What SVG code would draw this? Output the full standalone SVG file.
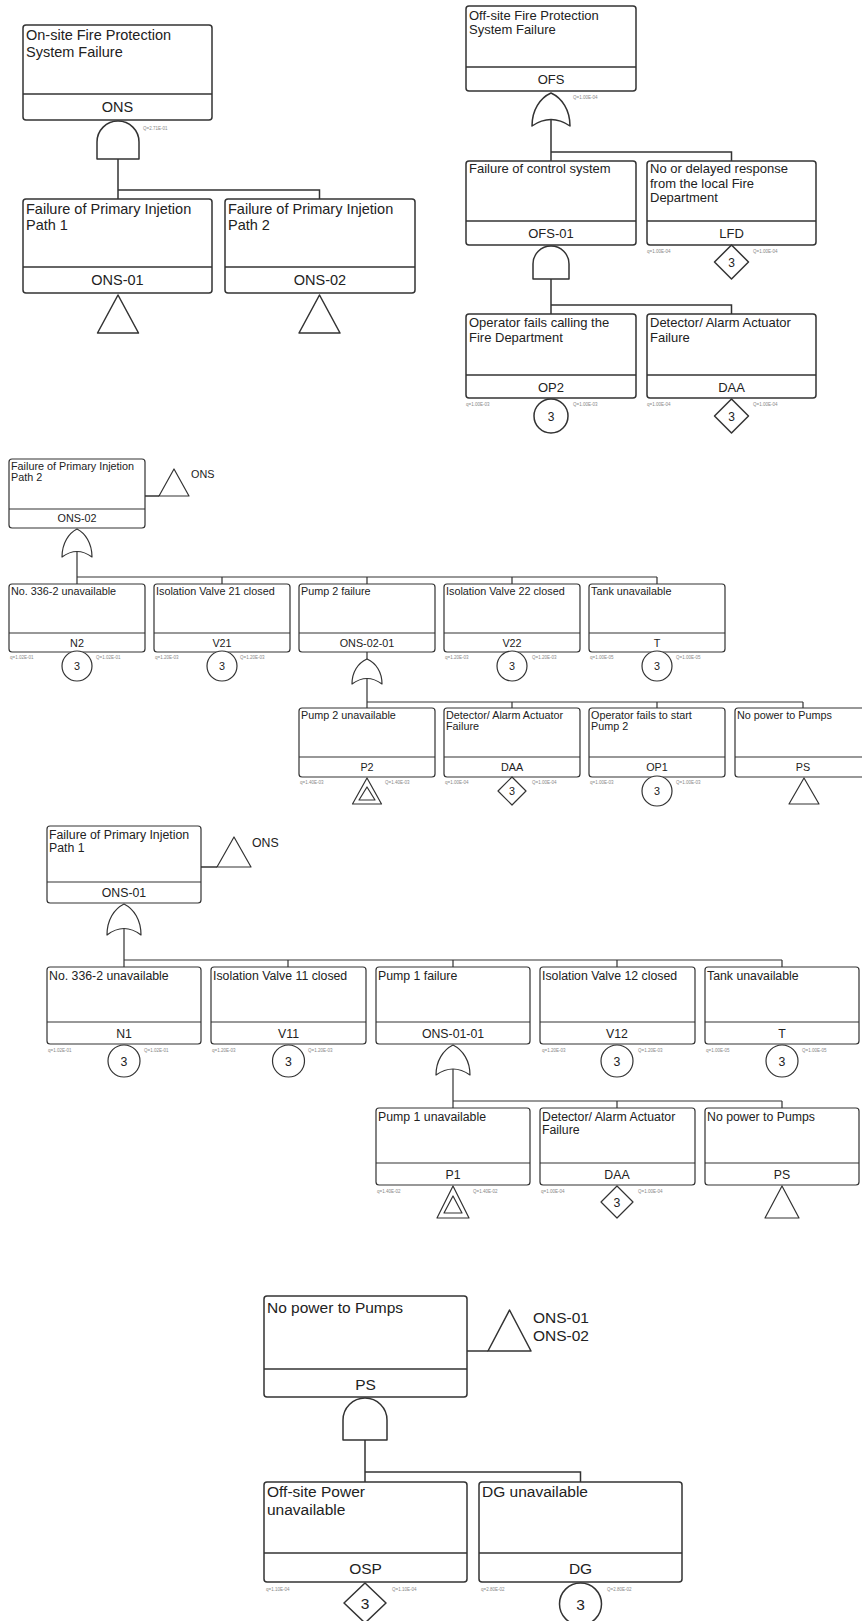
<svg xmlns="http://www.w3.org/2000/svg" width="862" height="1621" viewBox="0 0 862 1621">
<style>
.bg{fill:#fff}
.box{fill:#fff;stroke:#333;stroke-width:1.5}
.dv{stroke:#333;stroke-width:1.5}
.g{fill:#fff;stroke:#333;stroke-width:1.5;stroke-linejoin:round}
.c{fill:none;stroke:#333;stroke-width:1.5}
.t{font-family:"Liberation Sans",Arial,sans-serif;fill:#222}
.m{text-anchor:middle}
.sm{font-family:"Liberation Sans",Arial,sans-serif;font-size:4.5px;fill:#888}
.s1{font-size:14.5px}
.s1r{font-size:13px}
.s2{font-size:10.8px}
.s3{font-size:12.3px}
.s4{font-size:15.5px}
.thin .box,.thin .dv,.thin .g{stroke-width:1.2}
</style>
<rect class="bg" x="0" y="0" width="862" height="1621"/>

<!-- ===== Connectors ===== -->
<g id="connectors">
  <path class="c" d="M118,159 V199 M118,190 H319.5 V199"/>
  <path class="c" d="M551,120 V161 M551,152 H731.5 V161"/>
  <path class="c" d="M551,279 V314 M551,305 H731.5 V314"/>
  <path class="c" d="M145,496 H159"/>
  <path class="c" style="stroke-width:1.2" d="M77,551 V584 M77,577 H657 M222,577 V584 M367,577 V584 M512,577 V584 M657,577 V584"/>
  <path class="c" style="stroke-width:1.2" d="M367,652 V659 M367,678 V708 M367,702 H803 M512,702 V708 M657,702 V708 M803,702 V708"/>
  <path class="c" d="M201,867 H217"/>
  <path class="c" style="stroke-width:1.2" d="M124,928 V967 M124,960 H782 M288,960 V967 M453,960 V967 M617,960 V967 M782,960 V967"/>
  <path class="c" style="stroke-width:1.2" d="M453,1069 V1108 M453,1101 H782 M617,1101 V1108 M782,1101 V1108"/>
  <path class="c" d="M467,1351 H488"/>
  <path class="c" d="M365,1440 V1482 M365,1472 H580.5 V1482"/>
</g>

<!-- ===== Section 1 left ===== -->
<g id="ONS">
  <rect class="box" x="23" y="25" width="189" height="95" rx="3"/>
  <line class="dv" x1="23" y1="94" x2="212" y2="94"/>
  <text class="t s1" x="26" y="40">On-site Fire Protection</text>
  <text class="t s1" x="26" y="57">System Failure</text>
  <text class="t s1 m" x="117.5" y="112">ONS</text>
</g>
<g id="ONS-gate">
  <path class="g" d="M97,159 V142 A21,21 0 0 1 139,142 V159 Z"/>
  <text class="sm" x="143" y="130">Q=2.71E-01</text>
</g>
<g id="ONS-01-top">
  <rect class="box" x="23" y="199" width="189" height="94" rx="3"/>
  <line class="dv" x1="23" y1="267" x2="212" y2="267"/>
  <text class="t s1" x="26" y="213.5">Failure of Primary Injetion</text>
  <text class="t s1" x="26" y="230">Path 1</text>
  <text class="t s1 m" x="117.5" y="285">ONS-01</text>
  <path class="g" d="M118,295 L138.5,333 L97.5,333 Z"/>
</g>
<g id="ONS-02-top">
  <rect class="box" x="225" y="199" width="190" height="94" rx="3"/>
  <line class="dv" x1="225" y1="267" x2="415" y2="267"/>
  <text class="t s1" x="228" y="213.5">Failure of Primary Injetion</text>
  <text class="t s1" x="228" y="230">Path 2</text>
  <text class="t s1 m" x="320" y="285">ONS-02</text>
  <path class="g" d="M319.5,295 L340,333 L299,333 Z"/>
</g>

<!-- ===== Section 1 right ===== -->
<g id="OFS">
  <rect class="box" x="466" y="6" width="170" height="85" rx="3"/>
  <line class="dv" x1="466" y1="67" x2="636" y2="67"/>
  <text class="t s1r" x="469" y="19.5">Off-site Fire Protection</text>
  <text class="t s1r" x="469" y="34">System Failure</text>
  <text class="t s1r m" x="551" y="84">OFS</text>
</g>
<g id="OFS-gate">
  <path class="g" d="M532,126 C532,110 540,98 551,93 C562,98 570,110 570,126 Q551,113 532,126 Z"/>
  <text class="sm" x="573" y="99">Q=1.00E-04</text>
</g>
<g id="OFS-01">
  <rect class="box" x="466" y="161" width="170" height="84" rx="3"/>
  <line class="dv" x1="466" y1="221" x2="636" y2="221"/>
  <text class="t s1r" x="469" y="172.5">Failure of control system</text>
  <text class="t s1r m" x="551" y="237.5">OFS-01</text>
  <path class="g" d="M533,279 V264 A18,18 0 0 1 569,264 V279 Z"/>
</g>
<g id="LFD">
  <rect class="box" x="647" y="161" width="169" height="84" rx="3"/>
  <line class="dv" x1="647" y1="221" x2="816" y2="221"/>
  <text class="t s1r" x="650" y="172.5">No or delayed response</text>
  <text class="t s1r" x="650" y="187.5">from the local Fire</text>
  <text class="t s1r" x="650" y="202">Department</text>
  <text class="t s1r m" x="731.5" y="237.5">LFD</text>
  <path class="g" d="M731.5,245 L748.5,262 L731.5,279 L714.5,262 Z"/>
  <text class="t m" style="font-size:12px" x="731.5" y="266.5">3</text>
  <text class="sm" x="647" y="253">q=1.00E-04</text>
  <text class="sm" x="753" y="253">Q=1.00E-04</text>
</g>
<g id="OP2">
  <rect class="box" x="466" y="314" width="170" height="84" rx="3"/>
  <line class="dv" x1="466" y1="375" x2="636" y2="375"/>
  <text class="t s1r" x="469" y="327">Operator fails calling the</text>
  <text class="t s1r" x="469" y="341.5">Fire Department</text>
  <text class="t s1r m" x="551" y="391.5">OP2</text>
  <circle class="g" cx="551" cy="416" r="17"/>
  <text class="t m" style="font-size:12px" x="551" y="420.5">3</text>
  <text class="sm" x="466" y="406">q=1.00E-03</text>
  <text class="sm" x="573" y="406">Q=1.00E-03</text>
</g>
<g id="DAA-top">
  <rect class="box" x="647" y="314" width="169" height="84" rx="3"/>
  <line class="dv" x1="647" y1="375" x2="816" y2="375"/>
  <text class="t s1r" x="650" y="327">Detector/  Alarm Actuator</text>
  <text class="t s1r" x="650" y="341.5">Failure</text>
  <text class="t s1r m" x="731.5" y="391.5">DAA</text>
  <path class="g" d="M731.5,399 L748.5,416 L731.5,433 L714.5,416 Z"/>
  <text class="t m" style="font-size:12px" x="731.5" y="420.5">3</text>
  <text class="sm" x="647" y="406">q=1.00E-04</text>
  <text class="sm" x="753" y="406">Q=1.00E-04</text>
</g>

<!-- ===== Section 2: ONS-02 ===== -->
<g class="thin">
<g id="ONS-02">
  <rect class="box" x="9" y="459" width="136" height="69" rx="3"/>
  <line class="dv" x1="9" y1="509" x2="145" y2="509"/>
  <text class="t s2" x="11" y="470">Failure of Primary Injetion</text>
  <text class="t s2" x="11" y="481">Path 2</text>
  <text class="t s2 m" x="77" y="522">ONS-02</text>
  <path class="g" d="M174,469 L189,496 L159,496 Z"/>
  <text class="t s2" x="191" y="478">ONS</text>
  <path class="g" d="M62,557 C62,543 69,533 77,529 C85,533 92,543 92,557 Q77,546 62,557 Z"/>
</g>
<g id="N2">
  <rect class="box" x="9" y="584" width="136" height="68" rx="3"/>
  <line class="dv" x1="9" y1="633" x2="145" y2="633"/>
  <text class="t s2" x="11" y="595">No. 336-2 unavailable</text>
  <text class="t s2 m" x="77" y="647">N2</text>
  <circle class="g" cx="77" cy="666" r="15"/>
  <text class="t m s2" x="77" y="670">3</text>
  <text class="sm" x="10" y="659">q=1.02E-01</text>
  <text class="sm" x="96" y="659">Q=1.02E-01</text>
</g>
<g id="V21">
  <rect class="box" x="154" y="584" width="136" height="68" rx="3"/>
  <line class="dv" x1="154" y1="633" x2="290" y2="633"/>
  <text class="t s2" x="156" y="595">Isolation Valve 21 closed</text>
  <text class="t s2 m" x="222" y="647">V21</text>
  <circle class="g" cx="222" cy="666" r="15"/>
  <text class="t m s2" x="222" y="670">3</text>
  <text class="sm" x="155" y="659">q=1.20E-03</text>
  <text class="sm" x="240" y="659">Q=1.20E-03</text>
</g>
<g id="ONS-02-01">
  <rect class="box" x="299" y="584" width="136" height="68" rx="3"/>
  <line class="dv" x1="299" y1="633" x2="435" y2="633"/>
  <text class="t s2" x="301" y="595">Pump 2 failure</text>
  <text class="t s2 m" x="367" y="647">ONS-02-01</text>
  <path class="g" d="M352,684 C352,672 358,663 367,659 C376,663 382,672 382,684 Q367,673 352,684 Z"/>
</g>
<g id="V22">
  <rect class="box" x="444" y="584" width="136" height="68" rx="3"/>
  <line class="dv" x1="444" y1="633" x2="580" y2="633"/>
  <text class="t s2" x="446" y="595">Isolation Valve 22 closed</text>
  <text class="t s2 m" x="512" y="647">V22</text>
  <circle class="g" cx="512" cy="666" r="15"/>
  <text class="t m s2" x="512" y="670">3</text>
  <text class="sm" x="445" y="659">q=1.20E-03</text>
  <text class="sm" x="532" y="659">Q=1.20E-03</text>
</g>
<g id="T2">
  <rect class="box" x="589" y="584" width="136" height="68" rx="3"/>
  <line class="dv" x1="589" y1="633" x2="725" y2="633"/>
  <text class="t s2" x="591" y="595">Tank unavailable</text>
  <text class="t s2 m" x="657" y="647">T</text>
  <circle class="g" cx="657" cy="666" r="15"/>
  <text class="t m s2" x="657" y="670">3</text>
  <text class="sm" x="590" y="659">q=1.00E-05</text>
  <text class="sm" x="676" y="659">Q=1.00E-05</text>
</g>
<g id="P2">
  <rect class="box" x="299" y="708" width="136" height="69" rx="3"/>
  <line class="dv" x1="299" y1="757" x2="435" y2="757"/>
  <text class="t s2" x="301" y="719">Pump 2 unavailable</text>
  <text class="t s2 m" x="367" y="771">P2</text>
  <path class="g" d="M367,778 L381.5,804 L352.5,804 Z"/>
  <path class="g" d="M367,787 L375,800 L359,800 Z"/>
  <text class="sm" x="300" y="784">q=1.40E-03</text>
  <text class="sm" x="385" y="784">Q=1.40E-03</text>
</g>
<g id="DAA-2">
  <rect class="box" x="444" y="708" width="136" height="69" rx="3"/>
  <line class="dv" x1="444" y1="757" x2="580" y2="757"/>
  <text class="t s2" x="446" y="719">Detector/  Alarm Actuator</text>
  <text class="t s2" x="446" y="730">Failure</text>
  <text class="t s2 m" x="512" y="771">DAA</text>
  <path class="g" d="M512,777 L526,791 L512,805 L498,791 Z"/>
  <text class="t m s2" x="512" y="795">3</text>
  <text class="sm" x="445" y="784">q=1.00E-04</text>
  <text class="sm" x="532" y="784">Q=1.00E-04</text>
</g>
<g id="OP1-2">
  <rect class="box" x="589" y="708" width="136" height="69" rx="3"/>
  <line class="dv" x1="589" y1="757" x2="725" y2="757"/>
  <text class="t s2" x="591" y="719">Operator fails to start</text>
  <text class="t s2" x="591" y="730">Pump 2</text>
  <text class="t s2 m" x="657" y="771">OP1</text>
  <circle class="g" cx="657" cy="791" r="15"/>
  <text class="t m s2" x="657" y="795">3</text>
  <text class="sm" x="590" y="784">q=1.00E-03</text>
  <text class="sm" x="676" y="784">Q=1.00E-03</text>
</g>
<g id="PS-2">
  <rect class="box" x="735" y="708" width="136" height="69" rx="3"/>
  <line class="dv" x1="735" y1="757" x2="871" y2="757"/>
  <text class="t s2" x="737" y="719">No power to Pumps</text>
  <text class="t s2 m" x="803" y="771">PS</text>
  <path class="g" d="M804,778 L819,804 L789,804 Z"/>
</g>
</g>

<!-- ===== Section 3: ONS-01 ===== -->
<g class="thin">
<g id="ONS-01">
  <rect class="box" x="47" y="826" width="154" height="77" rx="3"/>
  <line class="dv" x1="47" y1="882" x2="201" y2="882"/>
  <text class="t s3" x="49" y="838.5">Failure of Primary Injetion</text>
  <text class="t s3" x="49" y="852">Path 1</text>
  <text class="t s3 m" x="124" y="897">ONS-01</text>
  <path class="g" d="M234,837 L251,867 L217,867 Z"/>
  <text class="t s3" x="252" y="847">ONS</text>
  <path class="g" d="M107,935 C107,920 114,909 124,904 C134,909 141,920 141,935 Q124,922 107,935 Z"/>
</g>
<g id="N1">
  <rect class="box" x="47" y="967" width="154" height="77" rx="3"/>
  <line class="dv" x1="47" y1="1022" x2="201" y2="1022"/>
  <text class="t s3" x="49" y="979.5">No. 336-2 unavailable</text>
  <text class="t s3 m" x="124" y="1038">N1</text>
  <circle class="g" cx="124" cy="1061" r="16"/>
  <text class="t m s3" x="124" y="1065.5">3</text>
  <text class="sm" x="48" y="1052">q=1.02E-01</text>
  <text class="sm" x="144" y="1052">Q=1.02E-01</text>
</g>
<g id="V11">
  <rect class="box" x="211" y="967" width="155" height="77" rx="3"/>
  <line class="dv" x1="211" y1="1022" x2="366" y2="1022"/>
  <text class="t s3" x="213" y="979.5">Isolation Valve 11 closed</text>
  <text class="t s3 m" x="288.5" y="1038">V11</text>
  <circle class="g" cx="288.5" cy="1061" r="16"/>
  <text class="t m s3" x="288.5" y="1065.5">3</text>
  <text class="sm" x="212" y="1052">q=1.20E-03</text>
  <text class="sm" x="308" y="1052">Q=1.20E-03</text>
</g>
<g id="ONS-01-01">
  <rect class="box" x="376" y="967" width="154" height="77" rx="3"/>
  <line class="dv" x1="376" y1="1022" x2="530" y2="1022"/>
  <text class="t s3" x="378" y="979.5">Pump 1 failure</text>
  <text class="t s3 m" x="453" y="1038">ONS-01-01</text>
  <path class="g" d="M436,1075 C436,1061 443,1050 453,1045 C463,1050 470,1061 470,1075 Q453,1063 436,1075 Z"/>
</g>
<g id="V12">
  <rect class="box" x="540" y="967" width="155" height="77" rx="3"/>
  <line class="dv" x1="540" y1="1022" x2="695" y2="1022"/>
  <text class="t s3" x="542" y="979.5">Isolation Valve 12 closed</text>
  <text class="t s3 m" x="617" y="1038">V12</text>
  <circle class="g" cx="617" cy="1061" r="16"/>
  <text class="t m s3" x="617" y="1065.5">3</text>
  <text class="sm" x="542" y="1052">q=1.20E-03</text>
  <text class="sm" x="638" y="1052">Q=1.20E-03</text>
</g>
<g id="T1">
  <rect class="box" x="705" y="967" width="154" height="77" rx="3"/>
  <line class="dv" x1="705" y1="1022" x2="859" y2="1022"/>
  <text class="t s3" x="707" y="979.5">Tank unavailable</text>
  <text class="t s3 m" x="782" y="1038">T</text>
  <circle class="g" cx="782" cy="1061" r="16"/>
  <text class="t m s3" x="782" y="1065.5">3</text>
  <text class="sm" x="706" y="1052">q=1.00E-05</text>
  <text class="sm" x="802" y="1052">Q=1.00E-05</text>
</g>
<g id="P1">
  <rect class="box" x="376" y="1108" width="154" height="77" rx="3"/>
  <line class="dv" x1="376" y1="1163" x2="530" y2="1163"/>
  <text class="t s3" x="378" y="1120.5">Pump 1 unavailable</text>
  <text class="t s3 m" x="453" y="1179">P1</text>
  <path class="g" d="M453,1186 L469,1218 L437,1218 Z"/>
  <path class="g" d="M453,1196 L462,1213 L444,1213 Z"/>
  <text class="sm" x="377" y="1193">q=1.40E-02</text>
  <text class="sm" x="473" y="1193">Q=1.40E-02</text>
</g>
<g id="DAA-1">
  <rect class="box" x="540" y="1108" width="155" height="77" rx="3"/>
  <line class="dv" x1="540" y1="1163" x2="695" y2="1163"/>
  <text class="t s3" x="542" y="1120.5">Detector/  Alarm Actuator</text>
  <text class="t s3" x="542" y="1133.5">Failure</text>
  <text class="t s3 m" x="617" y="1179">DAA</text>
  <path class="g" d="M617,1186 L633,1202 L617,1218 L601,1202 Z"/>
  <text class="t m s3" x="617" y="1206.5">3</text>
  <text class="sm" x="541" y="1193">q=1.00E-04</text>
  <text class="sm" x="638" y="1193">Q=1.00E-04</text>
</g>
<g id="PS-1">
  <rect class="box" x="705" y="1108" width="154" height="77" rx="3"/>
  <line class="dv" x1="705" y1="1163" x2="859" y2="1163"/>
  <text class="t s3" x="707" y="1120.5">No power to Pumps</text>
  <text class="t s3 m" x="782" y="1179">PS</text>
  <path class="g" d="M782,1186 L799,1218 L765,1218 Z"/>
</g>
</g>

<!-- ===== Section 4: PS ===== -->
<g id="PS">
  <rect class="box" x="264" y="1296" width="203" height="101" rx="3"/>
  <line class="dv" x1="264" y1="1369" x2="467" y2="1369"/>
  <text class="t s4" x="267" y="1312.5">No power to Pumps</text>
  <text class="t s4 m" x="365.5" y="1389.5">PS</text>
  <path class="g" d="M509.5,1310 L531,1351 L488,1351 Z"/>
  <text class="t s4" x="533" y="1322.5">ONS-01</text>
  <text class="t s4" x="533" y="1340.5">ONS-02</text>
  <path class="g" d="M343,1440 V1420 A22,22 0 0 1 387,1420 V1440 Z"/>
</g>
<g id="OSP">
  <rect class="box" x="264" y="1482" width="203" height="100" rx="3"/>
  <line class="dv" x1="264" y1="1553" x2="467" y2="1553"/>
  <text class="t s4" x="267" y="1496.5">Off-site Power</text>
  <text class="t s4" x="267" y="1514.5">unavailable</text>
  <text class="t s4 m" x="365.5" y="1574">OSP</text>
  <path class="g" d="M365,1583 L386,1603 L365,1623 L344,1603 Z"/>
  <text class="t m s4" x="365" y="1608.5">3</text>
  <text class="sm" x="266" y="1591">q=1.10E-04</text>
  <text class="sm" x="392" y="1591">Q=1.10E-04</text>
</g>
<g id="DG">
  <rect class="box" x="479" y="1482" width="203" height="100" rx="3"/>
  <line class="dv" x1="479" y1="1553" x2="682" y2="1553"/>
  <text class="t s4" x="482" y="1496.5">DG unavailable</text>
  <text class="t s4 m" x="580.5" y="1574">DG</text>
  <circle class="g" cx="580.5" cy="1604" r="21"/>
  <text class="t m s4" x="580.5" y="1609.5">3</text>
  <text class="sm" x="481" y="1591">q=2.80E-02</text>
  <text class="sm" x="607" y="1591">Q=2.80E-02</text>
</g>
</svg>
